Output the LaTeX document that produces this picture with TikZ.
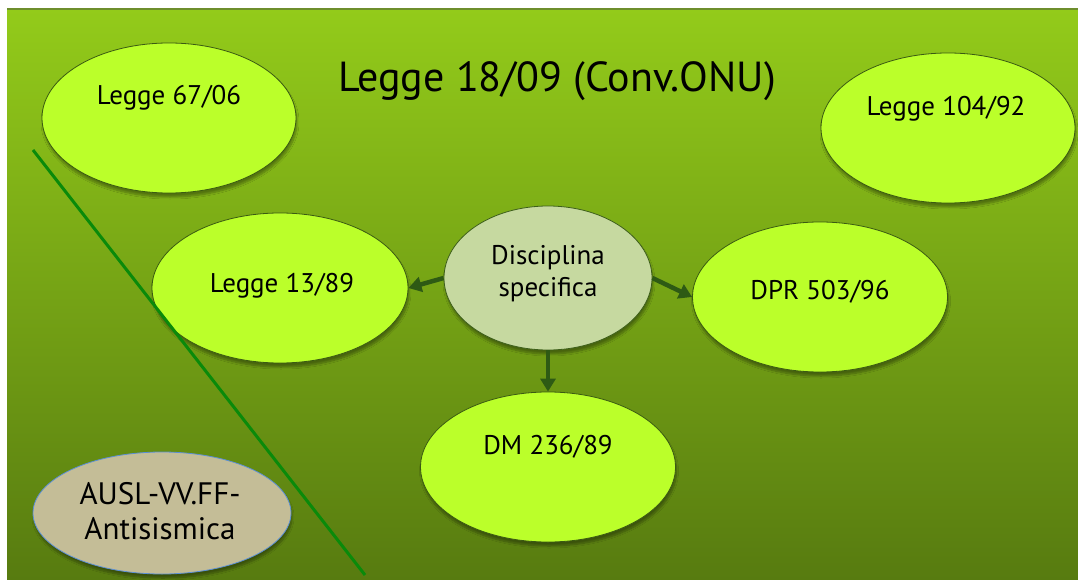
\documentclass[tikz,border=0pt]{standalone}
\usepackage{fontspec}
\setmainfont{PT Sans}
\usetikzlibrary{shapes.geometric,arrows.meta,shadows.blur}

\definecolor{bgtop}{HTML}{93CB1A}
\definecolor{bgbot}{HTML}{577B10}
\definecolor{frameline}{HTML}{6E8E2C}
\definecolor{leaffill}{HTML}{BBFF2A}
\definecolor{leafdraw}{HTML}{3A5A12}
\definecolor{corefill}{HTML}{C6D9A0}
\definecolor{coredraw}{HTML}{3D5F1A}
\definecolor{tanfill}{HTML}{C4BD97}
\definecolor{tandraw}{HTML}{5B8FD5}
\definecolor{arrowgreen}{HTML}{2E5A14}
\definecolor{divider}{HTML}{0A8A0A}

\tikzset{
  oval/.style={ellipse, inner sep=0pt, line width=0.8pt,
    blur shadow={shadow xshift=1pt, shadow yshift=-4pt, shadow opacity=35, shadow blur steps=8}},
  leaf/.style={oval, fill=leaffill, draw=leafdraw, minimum width=254pt, minimum height=150pt},
  core/.style={oval, fill=corefill, draw=coredraw, minimum width=208pt, minimum height=144pt},
  agency/.style={oval, fill=tanfill, draw=tandraw, minimum width=258pt, minimum height=122pt},
  lbl/.style={inner sep=0pt, anchor=base, font=\fontsize{27}{31}\selectfont},
  flow/.style={draw=arrowgreen, line width=4.5pt,
    -{Triangle[length=13pt,width=15pt]}}
}

\begin{document}
\begin{tikzpicture}[x=1pt,y=-1pt]
\useasboundingbox (0,0) rectangle (1078,580);

% slide background
\shade[top color=bgtop, bottom color=bgbot] (7,9) rectangle (1078,580);
\draw[frameline, line width=2pt] (7,9) -- (1078,9);

% title
\node[lbl, font=\fontsize{42}{46}\selectfont] (title) at (557,92) {Legge 18/09 (Conv.ONU)};

% ellipses
\node[leaf] (l67) at (169,118) {};
\node[leaf] (l104) at (948,128) {};
\node[leaf, minimum width=256pt] (l13) at (280,288) {};
\node[core] (disc) at (548,278) {};
\node[leaf, minimum width=255pt] (dpr) at (820,297) {};
\node[leaf, minimum width=255pt] (dm) at (548,467) {};
\node[agency] (ausl) at (162,513) {};

% labels
\node[lbl] (t67) at (169,105) {Legge 67/06};
\node[lbl] (t104) at (946,116) {Legge 104/92};
\node[lbl] (t13) at (282,292) {Legge 13/89};
\node[lbl] (tdpr) at (820,299) {DPR 503/96};
\node[lbl] (tdm) at (548,454) {DM 236/89};
\node[lbl, font=\fontsize{27}{31}\selectfont] (tdisc1) at (548,264) {Disciplina};
\node[lbl, font=\fontsize{27}{31}\selectfont] (tdisc2) at (548,296) {specifica};
\node[lbl, font=\fontsize{31}{36}\selectfont] (tausl1) at (160,504) {AUSL-VV.FF-};
\node[lbl, font=\fontsize{31}{36}\selectfont] (tausl2) at (160,539) {Antisismica};

% dividing line
\draw[divider, line width=3pt] (33,150) -- (365,575);

% connectors
\draw[flow] (disc.west) -- (l13.east);
\draw[flow] (disc.east) -- (dpr.west);
\draw[flow] (disc.south) -- (dm.north);
\end{tikzpicture}
\end{document}
